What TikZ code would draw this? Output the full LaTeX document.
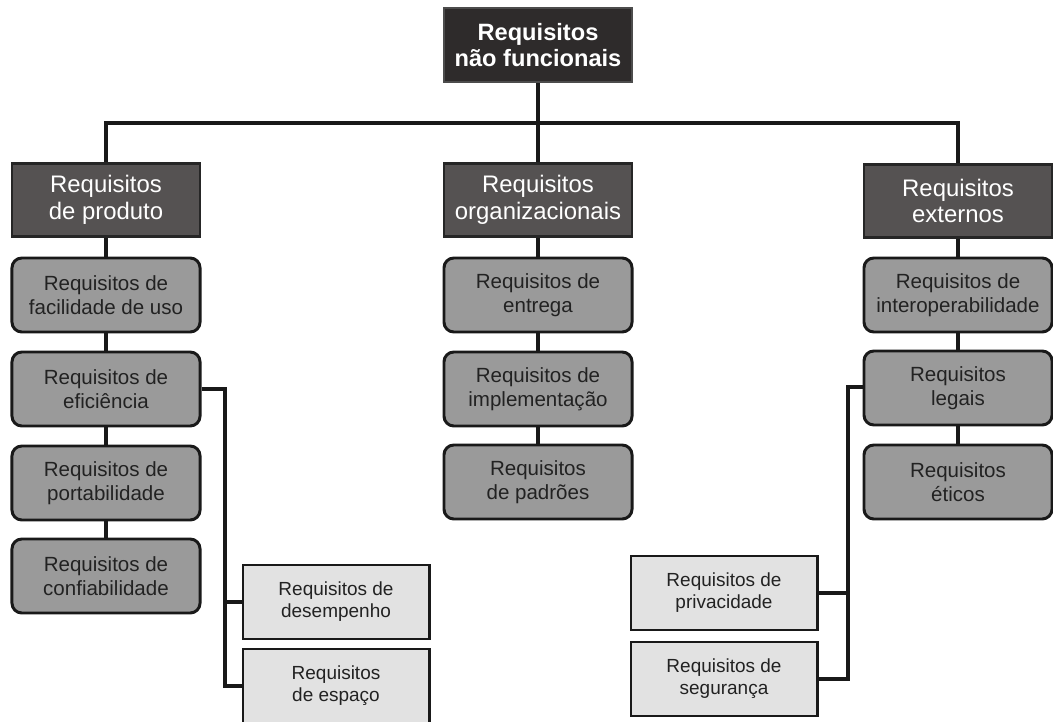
\documentclass[tikz,border=0pt]{standalone}
\usepackage{fontspec}
\setmainfont{Liberation Sans}
\usepackage{tikz}
\usetikzlibrary{positioning,calc}
\definecolor{topgray}{HTML}{2E2B2B}
\definecolor{catgray}{HTML}{555252}
\definecolor{reqgray}{HTML}{9A9A9A}
\definecolor{subgray}{HTML}{E2E2E2}
\definecolor{inkgray}{HTML}{222222}

\begin{document}
\begin{tikzpicture}[
    x=0.025cm, y=-0.025cm,
    wire/.style={line width=2.5pt, draw=black!90},
    root/.style={draw=black!70, line width=1.2pt, fill=topgray, text=white, align=center,
      minimum width=4.7cm, minimum height=1.85cm, inner sep=0pt,
      font=\bfseries\fontsize{16.8}{19}\selectfont},
    cat/.style={draw=black!85, line width=2pt, fill=catgray, text=white, align=center,
      minimum width=4.7cm, minimum height=1.83cm, inner sep=0pt,
      font=\fontsize{17}{19}\selectfont},
    req/.style={draw=black!90, line width=2.1pt, fill=reqgray, text=inkgray, align=center,
      rounded corners=7pt, minimum width=4.7cm, minimum height=1.85cm, inner sep=0pt,
      font=\fontsize{14.6}{17}\selectfont},
    sub/.style={draw=black!90, line width=2.1pt, fill=subgray, text=inkgray, align=center,
      minimum width=4.65cm, minimum height=1.85cm, inner sep=0pt,
      font=\fontsize{13.5}{15.6}\selectfont},
  ]
  \useasboundingbox (0,0) rectangle (1053,722);
  \fill[white] (0,0) rectangle (1053,722);

  % ---------------- root
  \node[root] (nf) at (538,45) {Requisitos\\não funcionais};
  \coordinate (bus) at (538,123);

  % ---------------- categories
  \node[cat] (prod) at (106,200) {Requisitos\\de produto};
  \node[cat] (org) at (538,200) {Requisitos\\organizacionais};
  \node[cat] (ext) at (958,201) {Requisitos\\externos};
  \draw[wire] (nf.south) -- (bus);
  \draw[wire] (prod.north) |- (bus) -| (ext.north);
  \draw[wire] (bus) -- (org.north);

  % ---------------- produto
  \node[req] (fac) at (106,295) {Requisitos de\\facilidade de uso};
  \node[req] (efi) at (106,389) {Requisitos de\\eficiência};
  \node[req] (port) at (106,483) {Requisitos de\\portabilidade};
  \node[req] (conf) at (106,576) {Requisitos de\\confiabilidade};
  \draw[wire] (prod) -- (fac) -- (efi) -- (port) -- (conf);

  \node[sub] (des) at (336,602) {Requisitos de\\desempenho};
  \node[sub] (esp) at (336,686) {Requisitos\\de espaço};
  \coordinate (lbus) at (225,389);
  \draw[wire] (efi.east) -- (lbus) |- (esp.west);
  \draw[wire] (lbus |- des.west) -- (des.west);

  % ---------------- organizacionais
  \node[req] (ent) at (538,295) {Requisitos de\\entrega};
  \node[req] (impl) at (538,389) {Requisitos de\\implementação};
  \node[req] (pad) at (538,482) {Requisitos\\de padrões};
  \draw[wire] (org) -- (ent) -- (impl) -- (pad);

  % ---------------- externos
  \node[req] (inter) at (958,295) {Requisitos de\\interoperabilidade};
  \node[req] (leg) at (958,388) {Requisitos\\legais};
  \node[req] (eti) at (958,482) {Requisitos\\éticos};
  \draw[wire] (ext) -- (inter) -- (leg) -- (eti);

  \node[sub] (pri) at (724,593) {Requisitos de\\privacidade};
  \node[sub] (seg) at (724,679) {Requisitos de\\segurança};
  \coordinate (rbus) at (848,387);
  \draw[wire] (leg.west |- rbus) -- (rbus) |- (seg.east);
  \draw[wire] (rbus |- pri.east) -- (pri.east);
\end{tikzpicture}
\end{document}
